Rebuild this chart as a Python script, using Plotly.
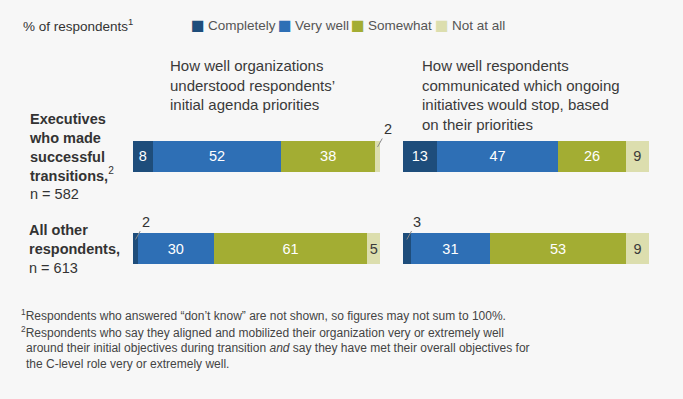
import plotly.graph_objects as go

# ---------------- data ----------------
categories = ["Completely", "Very well", "Somewhat", "Not at all"]
row_keys = ["exec", "others"]
row_labels = [
    "<b>Executives<br>who made<br>successful<br>transitions,</b><sup>2</sup><br>n = 582",
    "<b>All other<br>respondents,</b><br>n = 613",
]
panel_titles = [
    "How well organizations<br>understood respondents’<br>initial agenda priorities",
    "How well respondents<br>communicated which ongoing<br>initiatives would stop, based<br>on their priorities",
]

understood_completely = [8, 2]
understood_very_well = [52, 30]
understood_somewhat = [38, 61]
understood_not_at_all = [2, 5]

communicated_completely = [13, 3]
communicated_very_well = [47, 31]
communicated_somewhat = [26, 53]
communicated_not_at_all = [9, 9]

panels = [
    [understood_completely, understood_very_well, understood_somewhat, understood_not_at_all],
    [communicated_completely, communicated_very_well, communicated_somewhat, communicated_not_at_all],
]

footnote_lines = [
    "<sup>1</sup>Respondents who answered “don’t know” are not shown, so figures may not sum to 100%.",
    "<sup>2</sup>Respondents who say they aligned and mobilized their organization very or extremely well",
    "around their initial objectives during transition <i>and</i> say they have met their overall objectives for",
    "the C-level role very or extremely well.",
]

# ---------------- style ----------------
colors = ["#1e4d7b", "#2e6fb5", "#a3ad33", "#dcdeae"]
text_colors = ["#ffffff", "#ffffff", "#ffffff", "#3a3a3a"]
bg = "#f7f7f7"
W, H = 683, 399
T, B = 110, 104
BASE = "Liberation Sans, Arial, sans-serif"
SMALL = 4  # values below this are labelled outside


def py(pix):
    return (H - B - pix) / (H - T - B)


def px(pix):
    return pix / W


fig = go.Figure()
annotations = []
axis_names = ["x", "x2"]

for p, series in enumerate(panels):
    xa = axis_names[p]
    totals = [sum(s[i] for s in series) for i in range(len(row_keys))]
    for c, vals in enumerate(series):
        fig.add_trace(go.Bar(
            x=vals, y=row_keys, orientation="h",
            xaxis=xa, yaxis="y",
            marker=dict(color=colors[c], line=dict(width=0)),
            width=0.34,
            text=[str(v) if v >= SMALL else None for v in vals],
            textposition="inside", insidetextanchor="middle",
            constraintext="none",
            textfont=dict(color=text_colors[c], size=14.5, family=BASE),
            name=categories[c], showlegend=False, hoverinfo="skip",
        ))
    # outside labels for small segments
    for r in range(len(row_keys)):
        cum = 0
        for c, vals in enumerate(series):
            v = vals[r]
            if v < SMALL:
                centre = (cum + v / 2) / totals[r] * 100
                annotations.append(dict(
                    x=centre, y=r - 0.1, xref=xa, yref="y",
                    text=str(v), showarrow=True, arrowhead=0, arrowwidth=1,
                    arrowcolor="#8a8a8a", ax=10, ay=-18, standoff=0,
                    font=dict(size=14.5, color="#333333", family=BASE),
                ))
            cum += v

# panel titles
annotations.append(dict(x=px(168), y=py(55), xref="paper", yref="paper",
                        xanchor="left", yanchor="top", align="left", showarrow=False,
                        text=panel_titles[0], font=dict(size=15, color="#3a3a3a", family=BASE)))
annotations.append(dict(x=px(420), y=py(55), xref="paper", yref="paper",
                        xanchor="left", yanchor="top", align="left", showarrow=False,
                        text=panel_titles[1], font=dict(size=15, color="#3a3a3a", family=BASE)))

# row labels
for r, lab in enumerate(row_labels):
    annotations.append(dict(x=px(27), y=r, xref="paper", yref="y",
                            xanchor="left", yanchor="middle", align="left", showarrow=False,
                            text=lab, font=dict(size=14.5, color="#333333", family=BASE)))

# legend header
annotations.append(dict(x=px(21), y=py(25), xref="paper", yref="paper",
                        xanchor="left", yanchor="middle", showarrow=False,
                        text="% of respondents<sup>1</sup>",
                        font=dict(size=13.5, color="#333333", family=BASE)))
# manual legend
sq_x = [192, 279, 352, 436]
for c, name in enumerate(categories):
    annotations.append(dict(x=px(sq_x[c] - 3), y=py(25), xref="paper", yref="paper",
                            xanchor="left", yanchor="middle", showarrow=False,
                            text="■", font=dict(size=14.5, color=colors[c], family="DejaVu Sans")))
    annotations.append(dict(x=px(sq_x[c] + 14), y=py(25), xref="paper", yref="paper",
                            xanchor="left", yanchor="middle", showarrow=False,
                            text=name, font=dict(size=13.5, color="#555555", family=BASE)))

# footnotes
fn_y = [315, 331.5, 347.8, 364]
fn_x = [19, 19, 24, 24]
for i, line in enumerate(footnote_lines):
    annotations.append(dict(x=px(fn_x[i]), y=py(fn_y[i]), xref="paper", yref="paper",
                            xanchor="left", yanchor="middle", align="left", showarrow=False,
                            text=line, font=dict(size=12, color="#444444", family=BASE)))

hidden = dict(showgrid=False, zeroline=False, showticklabels=False, showline=False,
              ticks="", fixedrange=True)
fig.update_layout(
    width=W, height=H,
    margin=dict(l=0, r=0, t=T, b=B, pad=0),
    paper_bgcolor=bg, plot_bgcolor=bg,
    barmode="stack", barnorm="percent",
    xaxis=dict(domain=[133 / W, 380 / W], range=[0, 100], anchor="y", **hidden),
    xaxis2=dict(domain=[403 / W, 649 / W], range=[0, 100], anchor="y", **hidden),
    yaxis=dict(type="category", range=[1.5, -0.5], domain=[0, 1], **hidden),
    annotations=annotations,
    showlegend=False,
    hovermode=False,
    font=dict(family=BASE),
)

fig.write_html(
    "out.html",
    config={"displayModeBar": False, "staticPlot": True},
    post_script="document.body.style.margin='0';document.body.style.background='" + bg + "';",
)
